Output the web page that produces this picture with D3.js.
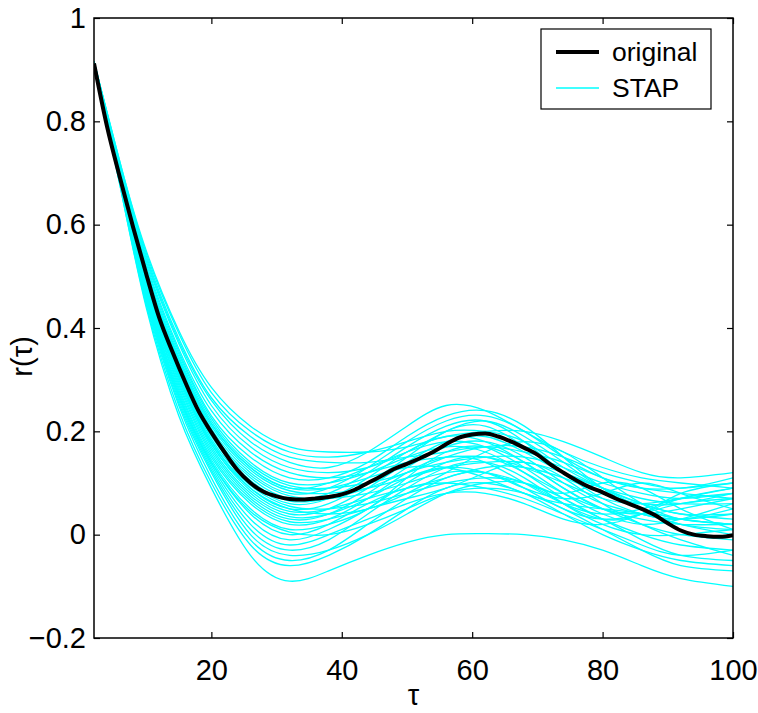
<!DOCTYPE html>
<html>
<head>
<meta charset="utf-8">
<script src="https://cdn.jsdelivr.net/npm/d3@7"></script>
<style>
  body { margin: 0; background: #fff; }
  text { font-family: "Liberation Sans Narrow", "Liberation Sans", Arial, sans-serif; }
</style>
</head>
<body>
<div id="chart"></div>
<script>
const knots = [2, 6, 10, 15, 20, 26, 32, 38, 44, 50, 56, 62, 68, 74, 80, 86, 92, 100];

// STAP surrogate autocorrelations (one row per curve, values at knots)
const stapSeries = [
  [0.915, 0.675, 0.44, 0.23, 0.09, -0.04, -0.09, -0.07, -0.04, -0.015, 0.0, 0.002, 0.0, -0.01, -0.03, -0.06, -0.085, -0.1],
  [0.915, 0.675, 0.445, 0.24, 0.10, -0.02, -0.06, -0.04, 0.0, 0.05, 0.09, 0.10, 0.08, 0.04, 0.0, -0.03, -0.05, -0.06],
  [0.915, 0.68, 0.45, 0.25, 0.11, -0.01, -0.05, -0.03, 0.02, 0.07, 0.11, 0.12, 0.09, 0.05, 0.03, 0.04, 0.06, 0.07],
  [0.915, 0.68, 0.455, 0.255, 0.12, 0.0, -0.04, -0.03, 0.0, 0.04, 0.08, 0.10, 0.10, 0.07, 0.03, -0.01, -0.04, -0.05],
  [0.915, 0.685, 0.46, 0.26, 0.125, 0.01, -0.03, -0.01, 0.04, 0.09, 0.13, 0.14, 0.11, 0.06, 0.02, 0.0, 0.0, 0.01],
  [0.915, 0.685, 0.46, 0.265, 0.13, 0.02, -0.02, 0.0, 0.03, 0.06, 0.08, 0.08, 0.06, 0.03, 0.02, 0.04, 0.07, 0.09],
  [0.915, 0.685, 0.465, 0.27, 0.135, 0.03, -0.01, 0.01, 0.05, 0.10, 0.14, 0.15, 0.12, 0.08, 0.05, 0.04, 0.05, 0.07],
  [0.915, 0.69, 0.47, 0.275, 0.14, 0.04, 0.0, 0.02, 0.06, 0.09, 0.10, 0.09, 0.07, 0.04, 0.01, -0.02, -0.04, -0.03],
  [0.915, 0.69, 0.47, 0.28, 0.145, 0.05, 0.01, 0.02, 0.05, 0.11, 0.16, 0.17, 0.14, 0.09, 0.05, 0.03, 0.02, 0.02],
  [0.915, 0.69, 0.475, 0.285, 0.15, 0.06, 0.02, 0.03, 0.07, 0.12, 0.15, 0.14, 0.10, 0.06, 0.04, 0.05, 0.07, 0.09],
  [0.915, 0.69, 0.475, 0.29, 0.155, 0.065, 0.025, 0.03, 0.05, 0.07, 0.09, 0.12, 0.14, 0.11, 0.06, 0.02, -0.01, -0.04],
  [0.915, 0.695, 0.48, 0.295, 0.16, 0.07, 0.03, 0.04, 0.08, 0.13, 0.17, 0.18, 0.15, 0.10, 0.06, 0.04, 0.03, 0.05],
  [0.915, 0.695, 0.48, 0.30, 0.165, 0.075, 0.035, 0.04, 0.07, 0.11, 0.13, 0.12, 0.09, 0.07, 0.08, 0.10, 0.08, 0.05],
  [0.915, 0.695, 0.485, 0.305, 0.17, 0.08, 0.04, 0.05, 0.09, 0.14, 0.18, 0.19, 0.16, 0.12, 0.09, 0.07, 0.06, 0.06],
  [0.915, 0.695, 0.485, 0.305, 0.175, 0.085, 0.045, 0.05, 0.07, 0.09, 0.11, 0.13, 0.13, 0.11, 0.08, 0.05, 0.03, 0.02],
  [0.915, 0.70, 0.49, 0.31, 0.18, 0.09, 0.05, 0.06, 0.10, 0.15, 0.20, 0.21, 0.17, 0.12, 0.08, 0.06, 0.06, 0.08],
  [0.915, 0.70, 0.49, 0.315, 0.18, 0.095, 0.055, 0.05, 0.06, 0.08, 0.10, 0.11, 0.10, 0.06, 0.03, 0.04, 0.08, 0.10],
  [0.915, 0.70, 0.495, 0.32, 0.185, 0.10, 0.06, 0.07, 0.11, 0.16, 0.19, 0.18, 0.14, 0.09, 0.05, 0.02, 0.0, -0.01],
  [0.915, 0.70, 0.495, 0.32, 0.19, 0.105, 0.065, 0.07, 0.09, 0.12, 0.14, 0.15, 0.15, 0.13, 0.10, 0.08, 0.07, 0.08],
  [0.915, 0.70, 0.50, 0.325, 0.195, 0.11, 0.07, 0.08, 0.12, 0.17, 0.21, 0.22, 0.18, 0.12, 0.07, 0.04, 0.03, 0.04],
  [0.915, 0.705, 0.50, 0.33, 0.20, 0.115, 0.075, 0.07, 0.08, 0.10, 0.12, 0.12, 0.10, 0.08, 0.10, 0.09, 0.05, 0.01],
  [0.915, 0.705, 0.505, 0.335, 0.205, 0.12, 0.08, 0.09, 0.13, 0.18, 0.22, 0.23, 0.20, 0.15, 0.11, 0.09, 0.09, 0.10],
  [0.915, 0.705, 0.505, 0.335, 0.21, 0.125, 0.085, 0.08, 0.09, 0.11, 0.13, 0.14, 0.14, 0.12, 0.09, 0.06, 0.04, 0.03],
  [0.915, 0.705, 0.51, 0.34, 0.215, 0.13, 0.09, 0.10, 0.13, 0.16, 0.18, 0.17, 0.13, 0.08, 0.04, 0.02, 0.03, 0.06],
  [0.915, 0.705, 0.51, 0.345, 0.22, 0.135, 0.095, 0.09, 0.10, 0.12, 0.15, 0.17, 0.17, 0.15, 0.12, 0.10, 0.09, 0.11],
  [0.915, 0.71, 0.515, 0.35, 0.225, 0.14, 0.10, 0.10, 0.12, 0.15, 0.17, 0.16, 0.12, 0.07, 0.03, 0.0, -0.02, -0.03],
  [0.915, 0.71, 0.52, 0.355, 0.23, 0.15, 0.11, 0.11, 0.14, 0.19, 0.23, 0.24, 0.21, 0.15, 0.09, 0.05, 0.03, 0.02],
  [0.915, 0.71, 0.525, 0.36, 0.24, 0.16, 0.12, 0.11, 0.12, 0.14, 0.15, 0.15, 0.13, 0.10, 0.07, 0.06, 0.07, 0.08],
  [0.915, 0.71, 0.53, 0.37, 0.25, 0.17, 0.13, 0.12, 0.13, 0.16, 0.20, 0.22, 0.19, 0.14, 0.09, 0.06, 0.04, 0.04],
  [0.915, 0.715, 0.535, 0.375, 0.26, 0.18, 0.14, 0.13, 0.16, 0.21, 0.25, 0.24, 0.20, 0.16, 0.13, 0.11, 0.10, 0.09],
  [0.915, 0.715, 0.54, 0.38, 0.265, 0.19, 0.15, 0.14, 0.14, 0.15, 0.16, 0.17, 0.16, 0.14, 0.11, 0.09, 0.08, 0.07],
  [0.915, 0.72, 0.545, 0.39, 0.275, 0.20, 0.16, 0.15, 0.16, 0.18, 0.20, 0.20, 0.18, 0.13, 0.09, 0.05, 0.02, 0.01],
  [0.915, 0.72, 0.55, 0.395, 0.285, 0.21, 0.17, 0.16, 0.16, 0.17, 0.19, 0.20, 0.20, 0.18, 0.15, 0.12, 0.11, 0.12],
  [0.915, 0.685, 0.465, 0.27, 0.14, 0.045, 0.005, 0.0, 0.02, 0.05, 0.08, 0.09, 0.08, 0.05, 0.01, -0.03, -0.06, -0.07],
  [0.915, 0.70, 0.49, 0.31, 0.175, 0.09, 0.05, 0.04, 0.05, 0.08, 0.12, 0.16, 0.18, 0.16, 0.11, 0.06, 0.03, 0.02],
  [0.915, 0.705, 0.51, 0.34, 0.215, 0.13, 0.09, 0.09, 0.11, 0.13, 0.13, 0.11, 0.08, 0.06, 0.05, 0.04, 0.02, 0.0]
];

// original autocorrelation
const origTau = [2, 4, 6, 8, 10, 12, 14, 16, 18, 20, 22, 24, 26, 28, 30, 32, 34, 36, 38, 40, 42, 44, 46, 48, 50,
  52, 54, 56, 58, 60, 62, 64, 66, 68, 70, 72, 74, 76, 78, 80, 82, 84, 86, 88, 90, 92, 94, 96, 98, 100];
const origValues = [0.912, 0.79, 0.69, 0.595, 0.505, 0.42, 0.355, 0.295, 0.24, 0.198, 0.16, 0.125, 0.10, 0.083, 0.074,
  0.069, 0.068, 0.070, 0.073, 0.078, 0.087, 0.100, 0.113, 0.127, 0.137, 0.148, 0.160, 0.175, 0.188, 0.194,
  0.196, 0.190, 0.180, 0.168, 0.155, 0.136, 0.120, 0.105, 0.092, 0.082, 0.070, 0.060, 0.050, 0.038, 0.022,
  0.008, 0.000, -0.003, -0.004, -0.001];

const xTicks = [20, 40, 60, 80, 100];
const yTicks = [-0.2, 0, 0.2, 0.4, 0.6, 0.8, 1];
const legendItems = ["original", "STAP"];

const W = 758, H = 713;
const margin = { top: 18, right: 25, bottom: 75, left: 94 };
const width = W - margin.left - margin.right;
const height = H - margin.top - margin.bottom;
const FONT = "'Liberation Sans Narrow', 'Liberation Sans', Arial, sans-serif";
const FS = 29;

const svg = d3.select("#chart").append("svg")
  .attr("width", W)
  .attr("height", H);

const g = svg.append("g")
  .attr("transform", `translate(${margin.left},${margin.top})`);

const x = d3.scaleLinear().domain([2, 100]).range([0, width]);
const y = d3.scaleLinear().domain([-0.2, 1]).range([height, 0]);

g.append("clipPath").attr("id", "plotClip")
  .append("rect").attr("width", width).attr("height", height);

const plot = g.append("g").attr("clip-path", "url(#plotClip)");

// cyan STAP curves
const stapLine = d3.line()
  .x((d, i) => x(knots[i]))
  .y(d => y(d))
  .curve(d3.curveNatural);

plot.selectAll(".stap")
  .data(stapSeries)
  .join("path")
  .attr("class", "stap")
  .attr("d", stapLine)
  .attr("fill", "none")
  .attr("stroke", "#00ffff")
  .attr("stroke-width", 1.3);

// black original curve
const origLine = d3.line()
  .x((d, i) => x(origTau[i]))
  .y(d => y(d))
  .curve(d3.curveMonotoneX);

plot.append("path")
  .datum(origValues)
  .attr("d", origLine)
  .attr("fill", "none")
  .attr("stroke", "#000")
  .attr("stroke-width", 4)
  .attr("stroke-linejoin", "round");

// axes, MATLAB style: ticks inside on all four sides
const fmt = d => d < 0 ? "\u2212" + Math.abs(d) : String(d);
const tickLen = 6;

const xBottom = g.append("g")
  .attr("transform", `translate(0,${height})`)
  .call(d3.axisBottom(x).tickValues(xTicks).tickSize(-tickLen).tickPadding(21).tickFormat(fmt));
const xTop = g.append("g")
  .call(d3.axisTop(x).tickValues(xTicks).tickSize(-tickLen).tickFormat(""));
const yLeft = g.append("g")
  .call(d3.axisLeft(y).tickValues(yTicks).tickSize(-tickLen).tickPadding(8).tickFormat(fmt));
const yRight = g.append("g")
  .attr("transform", `translate(${width},0)`)
  .call(d3.axisRight(y).tickValues(yTicks).tickSize(-tickLen).tickFormat(""));

[xBottom, xTop, yLeft, yRight].forEach(a => {
  a.select(".domain").remove();
  a.selectAll(".tick line").attr("stroke", "#000").attr("stroke-width", 1.2);
  a.selectAll("text").attr("font-size", FS).attr("fill", "#000").attr("font-family", FONT);
});

g.append("rect")
  .attr("width", width)
  .attr("height", height)
  .attr("fill", "none")
  .attr("stroke", "#000")
  .attr("stroke-width", 1.5);

// axis labels
g.append("text")
  .attr("x", width / 2)
  .attr("y", height + 67)
  .attr("text-anchor", "middle")
  .attr("font-size", FS)
  .attr("font-family", FONT)
  .text("\u03c4");

g.append("text")
  .attr("transform", `translate(${-62},${y(0.345)}) rotate(-90)`)
  .attr("text-anchor", "middle")
  .attr("font-size", FS)
  .attr("font-family", FONT)
  .text("r(\u03c4)");

// legend
const legend = svg.append("g").attr("transform", "translate(541,29)");
legend.append("rect")
  .attr("width", 170)
  .attr("height", 80)
  .attr("fill", "#fff")
  .attr("stroke", "#000")
  .attr("stroke-width", 1.2);

legendItems.forEach((name, i) => {
  const ly = 23 + i * 36;
  legend.append("line")
    .attr("x1", 15).attr("x2", 58)
    .attr("y1", ly).attr("y2", ly)
    .attr("stroke", i === 0 ? "#000" : "#00ffff")
    .attr("stroke-width", i === 0 ? 4 : 1.3);
  legend.append("text")
    .attr("x", 71)
    .attr("y", ly)
    .attr("dy", "0.35em")
    .attr("font-size", 26.5)
    .attr("font-family", FONT)
    .text(name);
});
</script>
</body>
</html>
